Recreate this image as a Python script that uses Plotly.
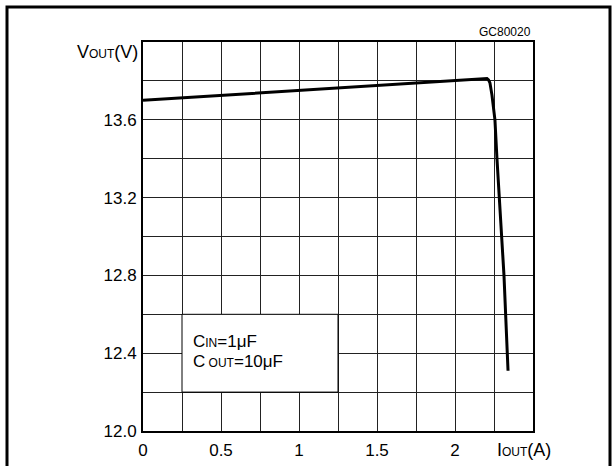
import plotly.graph_objects as go

# Data
iout = [0, 0.5, 1.0, 1.5, 2.0, 2.15, 2.19, 2.205, 2.215, 2.224, 2.237, 2.256, 2.269, 2.29, 2.314, 2.34]
vout = [13.70, 13.725, 13.75, 13.775, 13.80, 13.808, 13.813, 13.812, 13.805, 13.79, 13.727, 13.60, 13.40, 13.10, 12.80, 12.31]

x_grid = [0, 0.25, 0.5, 0.75, 1.0, 1.25, 1.5, 1.75, 2.0, 2.25, 2.5]
x_labels = ["0", "", "0.5", "", "1", "", "1.5", "", "2", "", ""]
y_grid = [12.0, 12.2, 12.4, 12.6, 12.8, 13.0, 13.2, 13.4, 13.6, 13.8, 14.0]
y_labels = ["12.0", "", "12.4", "", "12.8", "", "13.2", "", "13.6", "", ""]

W, H = 615, 466
L, R, T, B = 143, 82, 42, 35
pw, ph = W - L - R, H - T - B

FONT = "Liberation Sans"

fig = go.Figure()
fig.add_trace(go.Scatter(x=iout, y=vout, mode="lines",
                         line=dict(color="black", width=3), hoverinfo="skip"))

fig.update_layout(
    width=W, height=H,
    margin=dict(l=L, r=R, t=T, b=B, pad=0),
    paper_bgcolor="white", plot_bgcolor="white",
    showlegend=False,
    font=dict(family=FONT, color="black", size=17),
)
fig.update_xaxes(range=[0, 2.5], tickvals=x_grid, ticktext=x_labels,
                 showgrid=True, gridcolor="#222", gridwidth=1,
                 showline=True, linecolor="black", linewidth=2, mirror=True,
                 ticks="", zeroline=False, ticklabelstandoff=3, automargin=False,
                 tickfont=dict(size=17, family=FONT))
fig.update_yaxes(range=[12.0, 14.0], tickvals=y_grid, ticktext=y_labels,
                 showgrid=True, gridcolor="#222", gridwidth=1,
                 showline=True, linecolor="black", linewidth=2, mirror=True,
                 ticks="", zeroline=False, ticklabelstandoff=1, automargin=False,
                 tickfont=dict(size=17, family=FONT))

# white box for capacitor note
fig.add_shape(type="rect", xref="x", yref="y", x0=0.25, x1=1.25, y0=12.2, y1=12.6,
              fillcolor="white", line=dict(color="black", width=1), layer="above")

def px(xp):
    return (xp - L) / pw

def py(yp):
    return (H - B - yp) / ph

# outer frame (left, top, right edges; open at the bottom)
frame = (f"M {px(7)} {py(H)} L {px(7)} {py(7)} L {px(610)} {py(7)} L {px(610)} {py(H)}")
fig.add_shape(type="path", xref="paper", yref="paper", path=frame,
              line=dict(color="black", width=3), fillcolor="rgba(0,0,0,0)")

small = "font-size:12px"
fig.add_annotation(xref="x", yref="y", x=0.31, y=12.46, xanchor="left", yanchor="middle",
                   text=f"C<span style='{small}'>IN</span>=1μF", showarrow=False,
                   font=dict(size=17, family=FONT), align="left")
fig.add_annotation(xref="x", yref="y", x=0.31, y=12.355, xanchor="left", yanchor="middle",
                   text=f"C<span style='{small}'> OUT</span>=10μF", showarrow=False,
                   font=dict(size=17, family=FONT), align="left")

# axis titles
fig.add_annotation(xref="paper", yref="paper", x=px(140), y=py(52),
                   xanchor="right", yanchor="middle", showarrow=False,
                   text=f"V<span style='{small}'>OUT</span>(V)", font=dict(size=18, family=FONT))
fig.add_annotation(xref="paper", yref="paper", x=px(495), y=py(450),
                   xanchor="left", yanchor="middle", showarrow=False,
                   text=f"I<span style='{small}'>OUT</span>(A)", font=dict(size=18, family=FONT))
fig.add_annotation(xref="paper", yref="paper", x=1.0, y=py(32),
                   xanchor="right", yanchor="middle", showarrow=False,
                   text="GC80020", font=dict(size=12, family=FONT))

fig.write_html("out.html", config={"displayModeBar": False},
               post_script="document.body.style.margin='0';document.body.style.overflow='hidden';"
                           "document.documentElement.style.overflow='hidden';")
